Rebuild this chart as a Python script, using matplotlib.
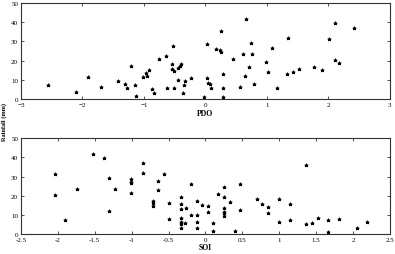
import matplotlib
matplotlib.use("Agg")
import matplotlib.pyplot as plt

# PDO vs rainfall
pdo_x = [-2.56, -2.10, -1.91, -1.69, -1.42, -1.30, -1.27, -1.21, -1.14, -1.13,
         -1.01, -0.97, -0.95, -0.91, -0.87, -0.84, -0.75, -0.64, -0.62, -0.55,
         -0.54, -0.52, -0.51, -0.51, -0.44, -0.44, -0.42, -0.39, -0.37, -0.34,
         -0.33, -0.23,
         -0.02, 0.03, 0.03, 0.05, 0.07, 0.09, 0.18, 0.23, 0.25, 0.26,
         0.29, 0.29, 0.29, 0.45, 0.57, 0.61, 0.65, 0.66, 0.71, 0.74,
         0.76, 0.79, 0.99, 1.01, 1.09, 1.17, 1.33, 1.35, 1.42, 1.52,
         1.77, 1.89, 2.01, 2.10, 2.10, 2.17, 2.41]
pdo_rain = [7.5, 3.5, 11.6, 6.3, 9.2, 7.8, 5.9, 17.4, 7.3, 1.4,
            11.5, 13.5, 12.0, 15.3, 5.2, 3.0, 20.8, 22.6, 5.6, 18.0,
            15.5, 27.4, 14.6, 5.7, 9.9, 16.1, 17.0, 18.0, 3.0, 7.5,
            9.4, 10.8,
            1.2, 10.9, 28.5, 8.2, 7.8, 5.9, 26.0, 25.7, 24.3, 35.6,
            12.8, 5.9, 0.9, 20.8, 6.1, 23.3, 12.0, 41.8, 16.5, 29.3,
            23.4, 7.6, 19.4, 14.1, 26.6, 5.9, 13.2, 31.6, 14.2, 15.5,
            16.5, 15.1, 31.4, 39.6, 20.3, 18.9, 37.0]

# SOI vs rainfall
soi_x = [-2.04, -2.04, -1.90, -1.74, -1.53, -1.38, -1.31, -1.31, -1.23, -1.01,
         -1.01, -1.01, -1.01, -0.85, -0.85, -0.64, -0.64, -0.56, -0.71, -0.71,
         -0.71, -0.49, -0.49, -0.33, -0.33, -0.33, -0.33, -0.33, -0.33, -0.33,
         -0.27, -0.26, -0.20, -0.20, -0.12, -0.12, -0.12, -0.12,
         -0.05, 0.03, 0.03, 0.10, 0.10, 0.17, 0.25, 0.25, 0.25, 0.25,
         0.25, 0.25, 0.33, 0.40, 0.47, 0.47, 0.70, 0.77, 0.85, 0.85,
         1.00, 1.00, 1.15, 1.15, 1.37, 1.37, 1.44, 1.52, 1.66, 1.66,
         1.81, 2.05, 2.19]
soi_rain = [31.6, 20.3, 7.6, 23.6, 42.0, 39.8, 29.5, 12.0, 23.4, 28.8,
            27.4, 26.4, 21.2, 37.2, 31.9, 27.8, 22.9, 31.6, 17.2, 16.0,
            14.9, 16.3, 8.0, 19.4, 15.6, 13.0, 8.2, 6.4, 5.2, 3.3,
            5.9, 13.4, 26.0, 9.9, 17.4, 9.9, 6.1, 3.1,
            15.1, 14.4, 11.6, 5.7, 1.7, 21.0, 24.5, 19.1, 13.7, 11.6,
            10.8, 9.2, 16.8, 1.4, 25.9, 12.5, 18.2, 15.8, 14.2, 10.8,
            18.2, 6.2, 15.6, 7.6, 35.8, 5.2, 5.9, 8.2, 7.5, 1.2,
            8.0, 3.1, 6.4]

plt.rcParams['font.family'] = ['Liberation Serif', 'DejaVu Serif']

fig = plt.figure(figsize=(3.95, 2.55), dpi=100)
ax1 = fig.add_axes([0.053, 0.608, 0.934, 0.376])
ax2 = fig.add_axes([0.053, 0.078, 0.934, 0.376])

for ax in (ax1, ax2):
    ax.tick_params(direction='in', length=2.5, width=0.6, labelsize=5,
                   top=True, right=True, pad=2, color='#333333')
    for s in ax.spines.values():
        s.set_linewidth(0.8)
        s.set_color('#333333')
    ax.set_ylim(0, 50)
    ax.set_yticks([0, 10, 20, 30, 40, 50])

ax1.scatter(pdo_x, pdo_rain, marker='*', s=6, color='black', linewidths=0.6)
ax1.set_xlim(-3, 3)
ax1.set_xticks([-3, -2, -1, 0, 1, 2, 3])
ax1.set_xlabel("PDO", fontsize=5.5, fontweight='bold', labelpad=1.5)

ax2.scatter(soi_x, soi_rain, marker='*', s=6, color='black', linewidths=0.6)
ax2.set_xlim(-2.5, 2.5)
ax2.set_xticks([-2.5, -2, -1.5, -1, -0.5, 0, 0.5, 1, 1.5, 2, 2.5])
ax2.set_xticklabels(['-2.5', '-2', '-1.5', '-1', '-0.5', '0', '0.5', '1', '1.5', '2', '2.5'])
ax2.set_xlabel("SOI", fontsize=5.5, fontweight='bold', labelpad=0.5)

fig.text(0.004, 0.52, "Rainfall (mm)", rotation=90, fontsize=4.5,
         fontweight='bold', va='center', ha='left')

fig.savefig("out.png", dpi=100)
